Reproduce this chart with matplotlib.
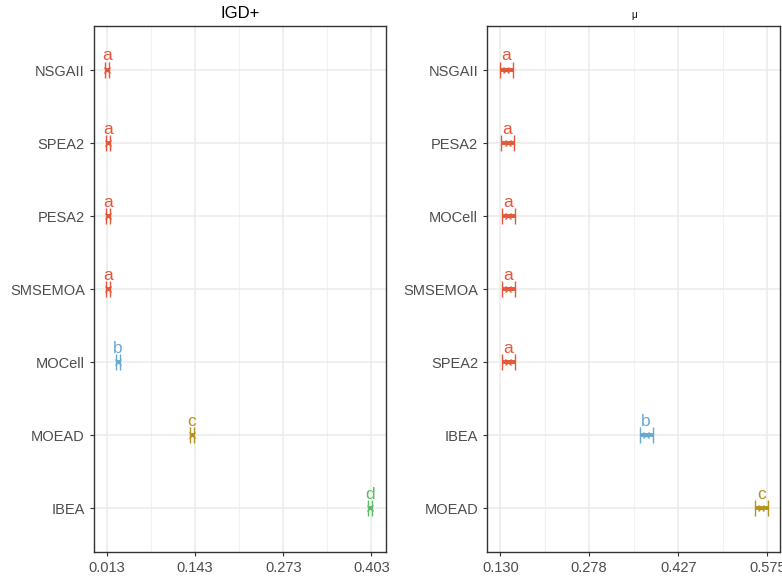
import numpy as np
import matplotlib
matplotlib.use("Agg")
import matplotlib.pyplot as plt
from matplotlib.ticker import FixedLocator

plt.rcParams['font.family'] = ['Liberation Sans', 'DejaVu Sans']

# ---- data
igd_algos = ['NSGAII', 'SPEA2', 'PESA2', 'SMSEMOA', 'MOCell', 'MOEAD', 'IBEA']
igd_mean  = [0.0135, 0.0145, 0.0145, 0.0145, 0.029, 0.138, 0.4005]
igd_err   = [0.003, 0.003, 0.003, 0.003, 0.003, 0.003, 0.003]
igd_group = ['a', 'a', 'a', 'a', 'b', 'c', 'd']
igd_ticks = [0.013, 0.143, 0.273, 0.403]

mu_algos = ['NSGAII', 'PESA2', 'MOCell', 'SMSEMOA', 'SPEA2', 'IBEA', 'MOEAD']
mu_mean  = [0.140, 0.142, 0.143, 0.143, 0.143, 0.373, 0.565]
mu_err   = [0.011, 0.011, 0.011, 0.011, 0.011, 0.011, 0.011]
mu_group = ['a', 'a', 'a', 'a', 'a', 'b', 'c']
mu_ticks = [0.130, 0.278, 0.427, 0.575]

group_col = {'a': '#E5573A', 'b': '#68A9D2', 'c': '#B8921E', 'd': '#5DBB6A'}


def panel(ax, algos, mean, err, group, ticks, xlim, title, tsize):
    ypos = np.arange(1, len(algos) + 1)
    for y, m, e, g in zip(ypos, mean, err, group):
        c = group_col[g]
        ax.errorbar(m, y, xerr=e, fmt='x', color=c, ms=4, mew=1,
                    elinewidth=2.8, capsize=5.5, capthick=3.2, zorder=3)
        ax.text(m, y - 0.09, g, color=c, ha='center', va='bottom',
                fontsize=12.5, zorder=4)
    ax.set_ylim(len(algos) + 0.6, 0.4)
    ax.set_xlim(*xlim)
    ax.set_yticks(ypos)
    ax.set_yticklabels(algos)
    ax.set_xticks(ticks)
    ax.set_xticklabels(['%.3f' % t for t in ticks])
    mids = [(a + b) / 2 for a, b in zip(ticks[:-1], ticks[1:])]
    ax.xaxis.set_minor_locator(FixedLocator(mids))
    ax.grid(True, which='major', color='#EBEBEB', lw=1.1, zorder=0)
    ax.grid(True, which='minor', axis='x', color='#F2F2F2', lw=0.8, zorder=0)
    ax.tick_params(axis='both', which='major', colors='#333333', length=3,
                   labelcolor='#4D4D4D', labelsize=10.5)
    ax.tick_params(which='minor', length=0)
    for s in ax.spines.values():
        s.set_color('#333333')
        s.set_linewidth(1.0)
    ax.set_axisbelow(True)
    ax.set_title(title, fontsize=tsize, pad=6)


fig = plt.figure(figsize=(7.82, 5.83), dpi=100)
ax1 = fig.add_axes([0.120, 0.053, 0.374, 0.902])
ax2 = fig.add_axes([0.623, 0.053, 0.375, 0.902])

panel(ax1, igd_algos, igd_mean, igd_err, igd_group, igd_ticks,
      (-0.0062, 0.425), 'IGD+', 12)
panel(ax2, mu_algos, mu_mean, mu_err, mu_group, mu_ticks,
      (0.108, 0.597), 'μ', 7)

fig.savefig('out.png', dpi=100)
